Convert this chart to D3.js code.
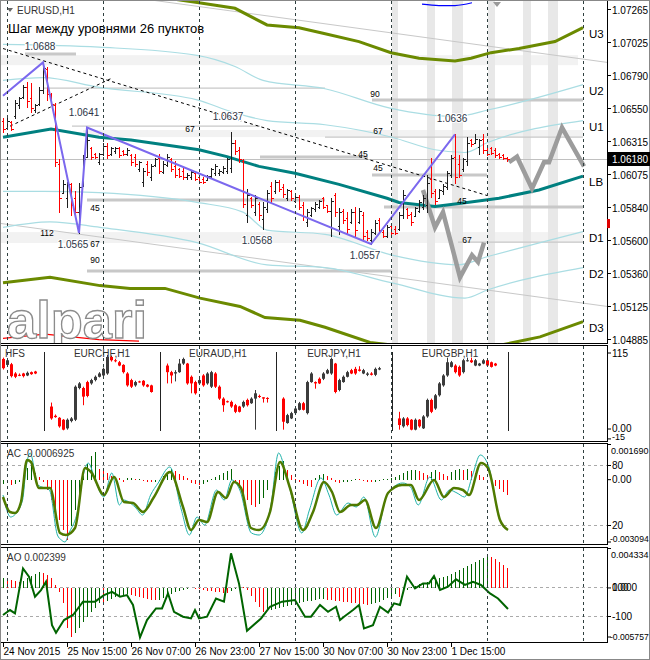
<!DOCTYPE html>
<html><head><meta charset="utf-8">
<script src="https://cdn.jsdelivr.net/npm/d3@7/dist/d3.min.js"></script>
<style>
body{margin:0;background:#fff}
svg{display:block;font-family:"Liberation Sans",Arial,sans-serif}
</style></head><body>
<svg id="chart" width="650" height="660"></svg>
<script>
// ================= DATA =================
const symbolTitle = "EURUSD,H1";
const subtitle = "Шаг между уровнями 26 пунктов";
const priceTicks = [1.07265,1.07025,1.06790,1.06550,1.06315,1.06075,1.05840,1.05600,1.05360,1.05125,1.04885];
const lastPrice = 1.06180;
const timeLabels = ["24 Nov 2015","25 Nov 15:00","26 Nov 07:00","26 Nov 23:00","27 Nov 15:00","30 Nov 07:00","30 Nov 23:00","1 Dec 15:00"];
const timeLabelHours = [0,16,32,48,64,80,96,112];   // hours after 24 Nov 23:00
const daySepHours = [1,25,49,73,97,121,145];

// EURUSD H1 bars [open, high, low, close], one per hour from 24 Nov 23:00
const bars = [
[1.0646,1.0648,1.0638,1.0640],[1.0641,1.0648,1.0641,1.0646],[1.0645,1.0646,1.0639,1.0640],[1.0649,1.0661,1.0648,1.0659],
[1.0657,1.0663,1.0655,1.0662],[1.0663,1.0672,1.0662,1.0670],[1.0670,1.0674,1.0656,1.0660],[1.0662,1.0673,1.0652,1.0655],
[1.0654,1.0658,1.0652,1.0657],[1.0658,1.0670,1.0657,1.0668],[1.0668,1.0688,1.0666,1.0684],[1.0683,1.0685,1.0661,1.0665],
[1.0665,1.0666,1.0657,1.0658],[1.0657,1.0659,1.0613,1.0616],[1.0615,1.0618,1.0580,1.0590],[1.0594,1.0603,1.0594,1.0600],
[1.0590,1.0602,1.0584,1.0600],[1.0600,1.0601,1.0578,1.0585],[1.0590,1.0595,1.0576,1.0580],[1.0580,1.0601,1.0565,1.0598],
[1.0600,1.0621,1.0599,1.0618],[1.0620,1.0641,1.0620,1.0632],[1.0626,1.0627,1.0618,1.0620],[1.0622,1.0623,1.0619,1.0620],
[1.0616,1.0623,1.0615,1.0622],[1.0622,1.0630,1.0621,1.0628],[1.0628,1.0630,1.0619,1.0621],[1.0622,1.0627,1.0621,1.0626],
[1.0624,1.0627,1.0623,1.0626],[1.0626,1.0627,1.0620,1.0621],[1.0624,1.0625,1.0621,1.0622],[1.0622,1.0626,1.0621,1.0625],
[1.0621,1.0622,1.0614,1.0616],[1.0620,1.0622,1.0613,1.0615],[1.0611,1.0617,1.0610,1.0616],[1.0602,1.0612,1.0599,1.0610],
[1.0615,1.0617,1.0607,1.0609],[1.0605,1.0615,1.0603,1.0613],[1.0614,1.0619,1.0613,1.0618],[1.0619,1.0622,1.0608,1.0610],
[1.0609,1.0617,1.0608,1.0615],[1.0614,1.0622,1.0613,1.0620],[1.0618,1.0619,1.0610,1.0611],[1.0613,1.0617,1.0605,1.0607],
[1.0611,1.0612,1.0605,1.0606],[1.0610,1.0612,1.0604,1.0605],[1.0605,1.0608,1.0604,1.0607],[1.0605,1.0610,1.0604,1.0609],
[1.0608,1.0608,1.0603,1.0604],[1.0605,1.0606,1.0601,1.0602],[1.0604,1.0605,1.0601,1.0602],[1.0603,1.0607,1.0603,1.0606],
[1.0606,1.0612,1.0605,1.0611],[1.0608,1.0615,1.0607,1.0613],[1.0608,1.0611,1.0607,1.0610],[1.0609,1.0613,1.0608,1.0612],
[1.0610,1.0619,1.0608,1.0618],[1.0612,1.0638,1.0609,1.0630],[1.0630,1.0632,1.0622,1.0624],[1.0625,1.0627,1.0616,1.0618],
[1.0617,1.0618,1.0584,1.0586],[1.0578,1.0597,1.0573,1.0592],[1.0590,1.0591,1.0584,1.0585],[1.0580,1.0592,1.0578,1.0590],
[1.0586,1.0587,1.0574,1.0578],[1.0575,1.0587,1.0568,1.0584],[1.0582,1.0596,1.0580,1.0594],[1.0599,1.0602,1.0587,1.0590],
[1.0595,1.0603,1.0594,1.0602],[1.0602,1.0603,1.0595,1.0597],[1.0598,1.0600,1.0591,1.0593],[1.0590,1.0597,1.0589,1.0596],
[1.0595,1.0596,1.0589,1.0590],[1.0588,1.0592,1.0587,1.0591],[1.0591,1.0592,1.0582,1.0584],[1.0585,1.0587,1.0574,1.0577],
[1.0573,1.0582,1.0570,1.0580],[1.0578,1.0584,1.0577,1.0583],[1.0582,1.0587,1.0581,1.0586],[1.0584,1.0589,1.0583,1.0588],
[1.0590,1.0591,1.0583,1.0584],[1.0585,1.0585,1.0580,1.0581],[1.0581,1.0590,1.0563,1.0588],[1.0592,1.0594,1.0577,1.0580],
[1.0570,1.0583,1.0564,1.0580],[1.0581,1.0582,1.0572,1.0574],[1.0576,1.0580,1.0565,1.0568],[1.0573,1.0582,1.0572,1.0580],
[1.0580,1.0584,1.0563,1.0567],[1.0573,1.0583,1.0572,1.0581],[1.0578,1.0580,1.0559,1.0563],[1.0566,1.0567,1.0560,1.0561],
[1.0560,1.0568,1.0557,1.0566],[1.0565,1.0574,1.0564,1.0572],[1.0574,1.0576,1.0565,1.0567],[1.0566,1.0567,1.0562,1.0563],
[1.0563,1.0571,1.0562,1.0569],[1.0570,1.0571,1.0564,1.0565],[1.0568,1.0570,1.0564,1.0565],[1.0568,1.0580,1.0567,1.0578],
[1.0578,1.0596,1.0576,1.0592],[1.0582,1.0583,1.0576,1.0578],[1.0579,1.0580,1.0571,1.0573],[1.0577,1.0584,1.0577,1.0583],
[1.0581,1.0589,1.0580,1.0587],[1.0584,1.0592,1.0582,1.0590],[1.0585,1.0607,1.0580,1.0601],[1.0604,1.0619,1.0591,1.0594],
[1.0595,1.0597,1.0586,1.0588],[1.0590,1.0597,1.0590,1.0596],[1.0595,1.0600,1.0593,1.0599],[1.0598,1.0610,1.0597,1.0608],
[1.0607,1.0621,1.0605,1.0619],[1.0620,1.0636,1.0601,1.0605],[1.0615,1.0621,1.0605,1.0607],[1.0611,1.0619,1.0610,1.0618],
[1.0617,1.0634,1.0614,1.0630],[1.0632,1.0633,1.0628,1.0629],[1.0630,1.0636,1.0630,1.0633],[1.0627,1.0633,1.0622,1.0632],
[1.0633,1.0636,1.0623,1.0625],[1.0625,1.0626,1.0621,1.0622],[1.0626,1.0627,1.0622,1.0623],[1.0625,1.0626,1.0620,1.0621],
[1.0622,1.0623,1.0619,1.0620],[1.0621,1.0622,1.0618,1.0619],[1.0619,1.0620,1.0617,1.0618]
];

// Channel levels (hour, price)
const levelNames = ["U3","U2","U1","LB","D1","D2","D3"];
const u3H=[0,12,24,37,49,58,66,74,80,89,97,104,113,117,122,129,138,145];
const u3P=[1.0740,1.0738,1.0740,1.0736,1.0731,1.0727,1.0715,1.0713,1.0709,1.0703,1.0695,1.0691,1.0689,1.0691,1.0695,1.0698,1.0703,1.0713];
const u2H=[0,24,48.5,58,65,80.5,96.75,113,121.75,145];
const u2P=[1.0701,1.0699,1.0693,1.0685,1.0675,1.0669,1.0655,1.0649,1.0654,1.0672];
const u1H=[0,10,24,48.5,57.5,66,80.5,97.25,108,115.5,121,145];
const u1P=[1.0675,1.0677,1.0670,1.0661,1.0652,1.0646,1.0643,1.0634,1.0625,1.0623,1.0630,1.0646];
const lbH=[0,12,24,32,49,56,64,73,84,96,99,108,116,124,134,145];
const lbP=[1.0634,1.0640,1.0634,1.0632,1.0625,1.0620,1.0613,1.0608,1.0600,1.0590,1.0587,1.0584,1.0587,1.0590,1.0596,1.0606];
const d1H=[0,10,24,48.5,60,66,80.5,97.25,113.75,121.25,145];
const d1P=[1.0595,1.0595,1.0594,1.0587,1.0580,1.0567,1.0564,1.0549,1.0542,1.0548,1.0566];
const d2H=[0,11.75,24.25,48.5,66,80.5,97.25,115.5,121.25,145];
const d2P=[1.0569,1.0573,1.0569,1.0558,1.0542,1.0540,1.0529,1.0518,1.0524,1.0540];
const d3H=[0,11.75,24.25,31.75,40.5,49.25,59.25,65.5,74.25,80.5,91.75,106.75,124.25,134.25,145];
const d3P=[1.0529,1.0533,1.0527,1.0525,1.0525,1.0518,1.0512,1.0504,1.0502,1.0497,1.0486,1.0481,1.0484,1.0490,1.0501];

// Regression channel borders
const regTopH=[-1,151], regTopP=[1.0748,1.0688];
const regBotH=[-1,151], regBotP=[1.0572,1.0512];

// ZigZag pivots
const zigBars=[0,10,19,21,92,113];
const zigPrices=[1.0664,1.0688,1.0565,1.0641,1.0557,1.0636];
const pivotBars=[10,21,57,113,19,65,92];
const pivotText=["1.0688","1.0641","1.0637","1.0636","1.0565","1.0568","1.0557"];
const pivotIsHigh=[1,1,1,1,0,0,0];

// Dashed trend lines
const trendAH=[0,121], trendAP=[1.0698,1.0592];
const trendBH=[1.75,27.5], trendBP=[1.0642,1.0677];

// Fibonacci-style level segments
const fibH0=[5.5,10,17.25,64.25,80.5,92.25,95.25,113.75,21,21,92.25];
const fibH1=[18.25,80.5,64.25,91.25,145,145,145,145,80.5,97.25,121];
const fibP=[1.0694,1.06695,1.06421,1.06197,1.06341,1.06608,1.05837,1.05584,1.05887,1.05375,1.06068];
const fibThick=[1,0,0,1,0,1,1,0,1,1,1];
const fibLabelText=["45","45","67","67","90","45","67","45","112","67","90"];
const fibLabelH=[90,93.75,46.75,93.75,93,114.75,116,23,11,23,23];
const fibLabelP=[1.0620,1.0610,1.0638,1.0636,1.0663,1.0586,1.0558,1.0581,1.0563,1.0555,1.0543];

// Shaded zones
const hBandH0=[-1,20,-1], hBandH1=[143.75,145,145];
const hBandP0=[1.06932,1.06392,1.05656], hBandP1=[1.06860,1.06341,1.05577];
const vBandH0=[97.25,106,112.25,121.25,130,136.25];
const vBandH1=[98.75,108,115,123,132,138.75];

// Projection paths
const proj1H=[105,108,110,114.25,117.25,118.75,120.25];
const proj1P=[1.0596,1.0569,1.0580,1.0533,1.0549,1.0544,1.0558];
const proj2H=[126.5,128.5,132.25,135.25,136.5,139.75,145.25];
const proj2P=[1.0616,1.0620,1.0597,1.0616,1.0616,1.0641,1.0613];

// misc small lines
const redLineH=[0,10.5,24,34], redLineP=[1.0489,1.0492,1.0488,1.0487];
const blueLineH=[104.75,109,113,117.25], blueLineP=[1.0730,1.0729,1.0729,1.0731];

// HFS mini charts [open,high,low,close] on 0..115 scale
const hfsNames=["","EURCHF,H1","EURAUD,H1","EURJPY,H1","EURGBP,H1"];
const hfsStartHour=[0,12,41,70,99];
const hfsSepHour=[10.25,39.25,68.25,97.25,126.25];
const hfsSeg0=[[106,108,90,92],[97,106,95,104],[98,100,78,80],[84,86,77,79],[82,84,80,81],[84,85,78,80],[81,87,80,85],[86,87,82,83],[87,88,83,84]];
const hfsChf=[[34,40,14,16],[20,22,17,18],[17,18,2,4],[14,15,-2,-1],[1,16,-1,14],[12,18,10,16],[14,66,12,64],[62,71,60,69],[62,64,36,49],[71,73,48,50],[69,76,67,74],[74,81,72,79],[79,86,78,84],[81,93,80,91],[84,112,82,109],[109,111,102,104],[104,106,101,103],[101,103,95,96],[97,98,84,86],[84,86,64,66],[74,76,62,64],[66,73,64,71],[72,73,70,71],[73,74,64,66],[67,68,63,64],[66,67,55,56]];
const hfsAud=[[96,99,69,86],[86,88,69,81],[84,89,72,86],[86,106,85,99],[99,108,97,106],[99,100,67,69],[79,81,54,69],[71,73,52,54],[69,76,67,74],[81,83,64,66],[69,86,67,84],[64,88,62,86],[84,86,62,64],[64,66,44,46],[46,48,26,36],[42,43,40,41],[41,43,32,34],[36,38,24,26],[34,35,25,26],[34,43,32,41],[44,46,34,36],[39,48,38,46],[46,59,-1,54],[50,52,47,49],[48,48,40,46],[47,48,40,46]];
const hfsJpy=[[46,48,-1,11],[9,23,8,21],[16,26,15,24],[24,33,22,31],[29,41,28,39],[39,41,28,29],[24,73,22,71],[71,86,70,84],[71,72,61,69],[76,78,68,69],[76,86,74,84],[84,91,83,89],[84,108,82,106],[99,100,54,56],[59,76,57,74],[71,81,70,79],[79,88,78,86],[89,91,83,84],[91,94,82,84],[90,95,87,88],[84,91,83,89],[82,86,80,84],[84,86,81,82],[82,93,80,91],[90,94,89,92]];
const hfsGbp=[[16,26,-1,6],[4,18,2,16],[16,18,4,6],[14,15,-2,-1],[-1,16,-2,14],[14,15,2,4],[1,21,0,19],[19,46,17,44],[44,46,24,26],[31,53,29,51],[51,71,49,69],[66,83,64,81],[81,108,79,101],[94,103,93,101],[96,98,84,86],[94,96,79,81],[86,106,84,104],[104,108,102,104],[104,108,100,101],[96,106,95,104],[96,100,95,99],[99,106,98,104],[104,106,95,96],[101,102,93,94],[99,100,95,96]];
const hfsTickText=["115","0.00","-15"];

// Accelerator Oscillator histogram (units of 0.0001), hourly
const acHist=[-1.9,-1.4,-2.4,-1.9,-0.9,1.9,5.7,9.0,3.3,1.4,-0.9,-4.7,-9.5,-14.2,-18.9,-23.7,-28.4,
-21.8,-14.2,-6.6,1.9,7.6,11.4,13.3,5.2,4.3,3.3,1.9,1.4,0.9,-0.9,0.7,0.9,0.5,0.5,-0.5,-0.9,-1.2,-0.9,-0.7,1.9,3.8,5.2,4.3,2.8,1.9,0.9,
-1.4,-1.9,-2.4,-1.9,-0.9,0.5,1.4,2.4,3.3,4.3,5.2,-0.9,-3.8,-7.1,-9.5,-11.8,-12.8,-11.4,-8.5,-4.7,0,3.8,6.6,9.0,4.7,2.4,0.5,-0.9,-1.9,-2.8,-3.3,
0.9,2.4,2.8,1.9,0.9,-0.9,-1.4,-1.2,-0.9,-0.5,0.5,0.2,-0.5,-0.9,-1.2,-0.9,-0.5,0.2,0.5,0.9,1.4,2.4,3.3,4.3,4.7,4.8,4.3,3.3,2.4,3.8,4.7,
3.8,2.8,1.9,3.8,4.7,5.2,4.7,5.2,4.3,3.3,2.4,1.4,0,-1.4,-2.8,-4.3,-5.7,-7.1];
const acTickText=["0.001690","80","0.00","20","-0.003094"];
const acLevel=[80,20];
// AC signal lines (0..100 scale)
const acLineH=[0,1.75,3,4.5,6,7,9,11.75,14.25,15.75,18,20.5,22,25.25,27.75,30.25,32.5,35,37.75,41.75,45,47,49,51,53.75,55.75,57.75,59.5,62,64,66.75,69.25,71.75,75,77.5,80.25,82.25,84.25,87,88.5,90.5,93.25,96.25,99.75,102,104,107.75,110.25,112.75,115,116.5,119.5,121.25,124.25,126.25];
const acLineV=[48,33,32,43,85,83,57,57,12,10,17,77,73,50,68,43,42,33,48,73,38,15,25,23,53,47,63,57,17,15,33,83,57,15,33,63,53,33,40,40,45,17,52,60,60,45,65,48,57,55,50,82,77,25,15];
const acFastH=[0,1.9,2.9,4.9,5.8,6.8,8.7,11.6,13.6,14.6,15.5,16.5,18.4,20.4,21.3,23.3,25.2,27.2,29.1,30.1,33,34.9,36.9,38.8,41.7,44.6,46.6,48.5,50.4,53.4,55.3,57.2,59.2,62.1,64,66.9,68.9,70.8,71.8,74.7,76.6,79.5,81.5,83.4,86.3,88.3,90.2,93.1,96,99.9,101.9,103.8,106.7,109.6,111.6,113.5,115.4,117.4,119.3,121.3,124.2,126.1];
const acFastV=[50,28,30,45,78,92,60,55,10,5,3,12,30,75,82,62,48,72,40,45,38,30,50,62,78,35,10,28,20,55,45,65,55,12,10,38,92,70,55,12,35,67,50,30,42,38,48,8,50,62,58,40,68,45,55,52,48,70,90,80,25,15];

// Awesome Oscillator histogram (units of 0.0001), hourly
const aoHist=[10.9,9.8,8.7,7.6,6.5,7.6,10.9,13.0,15.2,17.4,16.3,14.1,10.9,3.3,-4.3,-16.3,
-43.4,-53.2,-48.8,-43.4,-36.9,-31.5,-26.0,-21.7,-16.3,-17.4,-14.1,-11.9,-9.8,-8.7,-7.6,-6.5,-7.6,-8.7,-9.8,-10.9,-11.9,-13.0,-13.6,-13.0,-10.9,-8.7,-6.5,-4.3,-3.3,-2.2,-1.6,
-0.5,-1.1,-1.6,-2.2,-3.3,-3.8,-4.3,-4.9,-5.4,-6.0,-3.3,-1.1,1.1,0.5,-2.2,-8.7,-15.2,-20.6,-26.0,-25.0,-23.9,-22.8,-21.7,-20.6,-19.5,-18.4,-17.4,-16.3,-15.2,-14.6,-14.1,
-13.0,-12.5,-11.9,-13.0,-13.6,-14.1,-14.6,-15.2,-15.7,-16.3,-16.8,-17.4,-17.9,-18.4,-17.4,-16.3,-15.2,-13.0,-10.9,-8.7,-6.5,-9.8,-5.4,-2.2,1.1,2.2,3.8,5.4,6.5,7.6,8.7,
10.9,11.9,13.0,15.2,17.4,19.5,21.7,23.9,26.0,28.2,30.4,32.6,34.7,33.6,31.5,28.2,25.0,21.7];
const aoLineH=[0,1.75,3,5,6.5,8,9.5,10.75,12.25,13.25,15.25,17.5,20,23,25.25,27.25,29.25,31,32.5,34.25,36,38.25,39.75,41.25,42.75,45,47,48,49,51,53.25,55.25,57,59,61,64.5,66.75,69.75,73,75.5,77,79.25,81.25,83.25,84.25,85.25,87.5,89,90.25,92.5,94.25,96.25,97.75,99.25,101,103,105,106.5,107.75,109.25,111.25,113.25,115.5,117.5,119.5,121.75,123.75,126.25];
const aoLineV=[-93,-59,-82,228,171,33,79,136,-163,-215,-128,-93,-1,-1,44,67,33,44,-24,-248,-128,-48,-48,56,-71,-105,-117,-59,-117,-105,21,-1,332,125,-202,-117,-36,-1,10,-105,-105,-24,-71,-36,-128,-105,-59,-24,-186,-163,-36,-77,-13,-24,171,90,125,125,176,79,102,153,114,136,114,56,21,-52];
const aoTickText=["0.004334","0.000","100","-100","-0.005757"];

// ================= DRAWING =================
const svg=d3.select("#chart");
const xh=d3.scaleLinear().domain([0,145]).range([3,583]);
const yP=d3.scaleLinear().domain([1.04885,1.07265]).range([339,9]);
const yH=d3.scaleLinear().domain([0,115]).range([429,353]);
const yAC=d3.scaleLinear().domain([-30.94,16.90]).range([545,444]);
const yACs=d3.scaleLinear().domain([0,100]).range([545,445]);
const yAO=d3.scaleLinear().domain([-57.57,43.34]).range([641,548]);
const yAOl=d3.scaleLinear().domain([-100,100]).range([616,587]);
const px=h=>Math.round(xh(h))+0.5;
const zip=(a,b)=>a.map((v,i)=>[v,b[i]]);
const lineP=d3.line().x(d=>xh(d[0])).y(d=>yP(d[1]));
const lineSmooth=d3.line().x(d=>xh(d[0])).y(d=>yP(d[1])).curve(d3.curveMonotoneX);

svg.append("rect").attr("width",650).attr("height",660).attr("fill","#fff");
const defs=svg.append("defs");
function clip(id,x,y,w,h){defs.append("clipPath").attr("id",id).append("rect").attr("x",x).attr("y",y).attr("width",w).attr("height",h);}
clip("cMain",1,1,606,342); clip("cHfs",1,346,606,95); clip("cAc",1,444,606,100); clip("cAo",1,548,606,94);

// ---- main panel ----
const gM=svg.append("g").attr("clip-path","url(#cMain)");
hBandH0.forEach((h0,i)=>gM.append("rect").attr("x",xh(h0)).attr("width",xh(hBandH1[i])-xh(h0))
  .attr("y",yP(hBandP0[i])).attr("height",yP(hBandP1[i])-yP(hBandP0[i])).attr("fill","#f2f2f2"));
vBandH0.forEach((h0,i)=>gM.append("rect").attr("x",xh(h0)).attr("width",xh(vBandH1[i])-xh(h0))
  .attr("y",0).attr("height",345).attr("fill","#e8e8e8"));
[[regTopH,regTopP],[regBotH,regBotP]].forEach(([a,b])=>gM.append("path").attr("d",lineP(zip(a,b)))
  .attr("fill","none").attr("stroke","#c8c8c8").attr("stroke-width",1));
fibP.forEach((p,i)=>gM.append("line").attr("x1",xh(fibH0[i])).attr("x2",xh(fibH1[i]))
  .attr("y1",yP(p)).attr("y2",yP(p)).attr("stroke","#c8c8c8").attr("stroke-width",fibThick[i]?3:1.2));
gM.append("line").attr("x1",0).attr("x2",607).attr("y1",Math.round(yP(lastPrice))+0.5).attr("y2",Math.round(yP(lastPrice))+0.5)
  .attr("stroke","#c0c0c0");
// channel
[[u2H,u2P],[u1H,u1P],[d1H,d1P],[d2H,d2P]].forEach(([a,b])=>gM.append("path").attr("d",lineSmooth(zip(a,b)))
  .attr("fill","none").attr("stroke","#aadde3").attr("stroke-width",1.2));
[[u3H,u3P],[d3H,d3P]].forEach(([a,b])=>gM.append("path").attr("d",lineP(zip(a,b)))
  .attr("fill","none").attr("stroke","#6b8a00").attr("stroke-width",3));
gM.append("path").attr("d",lineP(zip(lbH,lbP))).attr("fill","none").attr("stroke","#008080").attr("stroke-width",3);
// projections
[[proj1H,proj1P],[proj2H,proj2P]].forEach(([a,b])=>gM.append("path").attr("d",lineP(zip(a,b)))
  .attr("fill","none").attr("stroke","#9c9c9c").attr("stroke-width",4.5).attr("stroke-linejoin","miter"));
// trend lines
[[trendAH,trendAP],[trendBH,trendBP]].forEach(([a,b])=>gM.append("path").attr("d",lineP(zip(a,b)))
  .attr("fill","none").attr("stroke","#000").attr("stroke-width",1).attr("stroke-dasharray","3,3"));
// misc
gM.append("path").attr("d",lineP(zip(redLineH,redLineP))).attr("fill","none").attr("stroke","#ff0000").attr("stroke-width",1.2);
gM.append("path").attr("d",lineSmooth(zip(blueLineH,blueLineP))).attr("fill","none").attr("stroke","#0000ff").attr("stroke-width",1.2);
gM.append("path").attr("d",`M${xh(122.5)},2 l8,0 l-4,5 z`).attr("fill","#999");
// bars
const gB=gM.append("g").attr("shape-rendering","crispEdges");
bars.forEach((b,i)=>{
  const [o,h,l,c]=b, x=px(i), col=c>=o?"#1e1e1e":"#ff0000";
  gB.append("line").attr("x1",x).attr("x2",x).attr("y1",Math.round(yP(h))).attr("y2",Math.round(yP(l))+1).attr("stroke",col);
  gB.append("line").attr("x1",x-2).attr("x2",x).attr("y1",Math.round(yP(o))+0.5).attr("y2",Math.round(yP(o))+0.5).attr("stroke",col);
  gB.append("line").attr("x1",x).attr("x2",x+2).attr("y1",Math.round(yP(c))+0.5).attr("y2",Math.round(yP(c))+0.5).attr("stroke",col);
});
// zigzag
gM.append("path").attr("d",d3.line().x(d=>xh(d[0])).y(d=>yP(d[1]))(zip(zigBars,zigPrices)))
  .attr("fill","none").attr("stroke","#7b68ee").attr("stroke-width",2);
// fib labels
fibLabelText.forEach((t,i)=>gM.append("text").attr("x",xh(fibLabelH[i])).attr("y",yP(fibLabelP[i]))
  .attr("text-anchor","middle").attr("font-size",8.5).attr("fill","#000").text(t));
// pivot labels
pivotText.forEach((t,i)=>{
  const b=bars[pivotBars[i]];
  const y=pivotIsHigh[i]?yP(b[1])-12:yP(b[2])+15;
  gM.append("text").attr("x",xh(pivotBars[i])-(pivotIsHigh[i]?3:6)).attr("y",y).attr("text-anchor","middle")
   .attr("font-size",10).attr("fill","#2c3446").attr("stroke","#fff").attr("stroke-width",2).attr("paint-order","stroke").text(t);
});
// level names
[[u3H,u3P],[u2H,u2P],[u1H,u1P],[lbH,lbP],[d1H,d1P],[d2H,d2P],[d3H,d3P]].forEach(([a,b],i)=>{
  gM.append("text").attr("x",589).attr("y",yP(b[b.length-1])+10).attr("font-size",11.5).attr("fill","#000").text(levelNames[i]);
});
// watermark
gM.append("text").attr("x",7).attr("y",338).attr("font-size",52).attr("font-weight","bold")
  .attr("textLength",140).attr("lengthAdjust","spacingAndGlyphs")
  .attr("fill","#fff").attr("stroke","#8c8c8c").attr("stroke-width",1.3).text("alpari");
// titles
svg.append("path").attr("d","M7,8 l6,0 l-3,4 z").attr("fill","#666");
svg.append("text").attr("x",17).attr("y",14).attr("font-size",10).attr("fill","#333").text(symbolTitle);
svg.append("text").attr("x",8).attr("y",33).attr("font-size",13).attr("fill","#000").text(subtitle);

// ---- HFS panel ----
const gH=svg.append("g").attr("clip-path","url(#cHfs)");
const segs=[hfsSeg0,hfsChf,hfsAud,hfsJpy,hfsGbp];
hfsSepHour.forEach(h=>gH.append("line").attr("x1",px(h)).attr("x2",px(h)).attr("y1",352).attr("y2",431).attr("stroke","#222"));
segs.forEach((s,k)=>{
  s.forEach((c,j)=>{
    const [o,h,l,cl]=c, x=px(hfsStartHour[k]+j), col=cl>=o?"#3c3c3c":"#ff0000";
    gH.append("line").attr("x1",x).attr("x2",x).attr("y1",yH(h)).attr("y2",yH(l)).attr("stroke",col);
    const top=yH(Math.max(o,cl)), bot=yH(Math.min(o,cl));
    gH.append("rect").attr("x",x-1.5).attr("width",3).attr("y",top).attr("height",Math.max(1,bot-top)).attr("fill",col);
  });
});
hfsNames.forEach((n,k)=>{ if(!n) return;
  const mid=(hfsSepHour[k-1]+hfsSepHour[k])/2;
  gH.append("text").attr("x",xh(mid)).attr("y",357).attr("text-anchor","middle").attr("font-size",10).attr("fill","#333").text(n);
});
gH.append("text").attr("x",5).attr("y",357).attr("font-size",10).attr("fill","#333").text("HFS");

// ---- AC panel ----
const gA=svg.append("g").attr("clip-path","url(#cAc)");
acLevel.forEach(v=>gA.append("line").attr("x1",0).attr("x2",607).attr("y1",Math.round(yACs(v))+0.5).attr("y2",Math.round(yACs(v))+0.5)
  .attr("stroke","#aaa").attr("stroke-dasharray","3,3"));
acHist.forEach((v,i)=>{
  const col=(i>0 && v<acHist[i-1])?"#ff0000":"#006400";
  gA.append("line").attr("x1",px(i)).attr("x2",px(i)).attr("y1",yAC(0)).attr("y2",yAC(v)).attr("stroke",col).attr("shape-rendering","crispEdges");
});
gA.append("path").attr("d",d3.line().x(d=>xh(d[0])).y(d=>yACs(d[1])).curve(d3.curveMonotoneX)(zip(acFastH,acFastV)))
  .attr("fill","none").attr("stroke","#20b2aa").attr("stroke-width",1);
gA.append("path").attr("d",d3.line().x(d=>xh(d[0])).y(d=>yACs(d[1])).curve(d3.curveMonotoneX)(zip(acLineH,acLineV)))
  .attr("fill","none").attr("stroke","#4f7a00").attr("stroke-width",2.5);
gA.append("text").attr("x",7).attr("y",457).attr("font-size",10).attr("fill","#333").text("AC -0.0006925");

// ---- AO panel ----
const gO=svg.append("g").attr("clip-path","url(#cAo)");
[100,-100].forEach(v=>gO.append("line").attr("x1",0).attr("x2",607).attr("y1",Math.round(yAOl(v))+0.5).attr("y2",Math.round(yAOl(v))+0.5)
  .attr("stroke","#aaa").attr("stroke-dasharray","3,3"));
aoHist.forEach((v,i)=>{
  const col=(i>0 && v<aoHist[i-1])?"#ff0000":"#006400";
  gO.append("line").attr("x1",px(i)).attr("x2",px(i)).attr("y1",yAO(0)).attr("y2",yAO(v)).attr("stroke",col).attr("shape-rendering","crispEdges");
});
gO.append("path").attr("d",d3.line().x(d=>xh(d[0])).y(d=>yAOl(d[1]))(zip(aoLineH,aoLineV)))
  .attr("fill","none").attr("stroke","#006400").attr("stroke-width",2);
gO.append("text").attr("x",7).attr("y",561).attr("font-size",10).attr("fill","#333").text("AO 0.002399");

// ---- day separators in all panels ----
[[1,343],[346,441],[444,544],[548,642]].forEach(([y0,y1])=>{
  daySepHours.forEach(h=>svg.append("line").attr("x1",px(h)).attr("x2",px(h)).attr("y1",y0).attr("y2",y1)
    .attr("stroke","#2f3f3f").attr("stroke-dasharray","3,3").attr("shape-rendering","crispEdges"));
});

// ---- frames ----
const fr=svg.append("g").attr("fill","none").attr("stroke","#000").attr("shape-rendering","crispEdges");
[[0.5,0.5,607,343],[0.5,345.5,607,96],[0.5,443.5,607,101],[0.5,547.5,607,95]].forEach(r=>
  fr.append("rect").attr("x",r[0]).attr("y",r[1]).attr("width",r[2]).attr("height",r[3]));
svg.append("rect").attr("x",0.5).attr("y",0.5).attr("width",649).attr("height",659).attr("fill","none").attr("stroke","#888");

// ---- right axis ----
const ax=svg.append("g").attr("font-size",10).attr("fill","#000");
function tick(y,t,by,fs,tx){
  ax.append("line").attr("x1",607).attr("x2",611).attr("y1",y).attr("y2",y).attr("stroke","#000");
  ax.append("text").attr("x",tx||612).attr("y",by).attr("font-size",fs||10).text(t);
}
priceTicks.forEach(p=>{ const y=Math.round(yP(p))+0.5; tick(y,p.toFixed(5),y+4); });
const ly=Math.round(yP(lastPrice));
ax.append("rect").attr("x",608).attr("y",ly-7).attr("width",42).attr("height",14).attr("fill","#000");
ax.append("text").attr("x",612).attr("y",ly+4).attr("fill","#fff").text(lastPrice.toFixed(5));
ax.append("rect").attr("x",607).attr("y",yP(1.0575)).attr("width",3).attr("height",9).attr("fill","#e00000");
// HFS axis
tick(yH(115),hfsTickText[0],357);
tick(yH(0),hfsTickText[1],432);
tick(yH(-15),hfsTickText[2],439.5,9);
// AC axis
tick(yAC(16.90)+0.5,acTickText[0],454,9,611);
tick(yACs(80)+0.5,acTickText[1],469);
tick(yAC(0),acTickText[2],483);
tick(yACs(20)+0.5,acTickText[3],529);
tick(yAC(-30.94)-3,acTickText[4],542,8.6,610);
// AO axis
tick(yAO(43.34)+0.5,aoTickText[0],558,9,611);
tick(yAO(0),aoTickText[1],591);
ax.append("text").attr("x",612).attr("y",591).text(aoTickText[2]);
tick(yAOl(-100)+0.5,aoTickText[3],620);
tick(yAO(-57.57)-4,aoTickText[4],640,8.6,610);

// ---- bottom time axis ----
timeLabels.forEach((t,i)=>{
  const x=px(timeLabelHours[i]);
  svg.append("line").attr("x1",x).attr("x2",x).attr("y1",643).attr("y2",647).attr("stroke","#000");
  svg.append("text").attr("x",x).attr("y",655).attr("font-size",10).attr("fill","#000").text(t);
});
</script></body></html>
